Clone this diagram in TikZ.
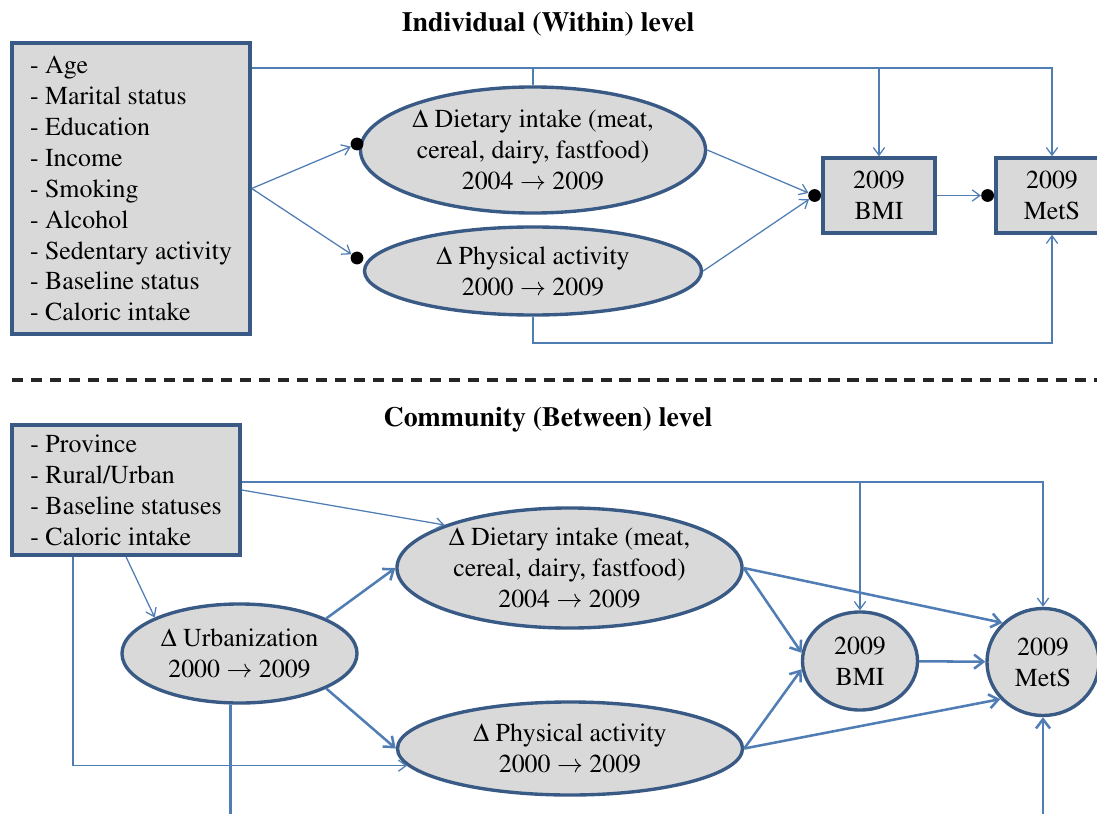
\documentclass[tikz,border=0pt]{standalone}
\usepackage[T1]{fontenc}
\usepackage{mathptmx}
\usetikzlibrary{shapes.geometric,arrows.meta,positioning}
\definecolor{boxline}{RGB}{58,90,134}
\definecolor{arrowline}{RGB}{80,126,180}
\definecolor{boxfill}{RGB}{217,217,217}

\begin{document}
\begin{tikzpicture}[x=0.025cm, y=-0.025cm,
        every node/.style={font=\fontsize{18.4}{22}\selectfont},
        leveltitle/.style={font=\fontsize{19.8}{22}\selectfont\bfseries},
        listbox/.style={draw=boxline, line width=2.4pt, fill=boxfill, align=left, inner sep=0pt},
        oval/.style={ellipse, draw=boxline, line width=2.4pt, fill=boxfill, align=center, inner sep=1pt},
        outbox/.style={rectangle, draw=boxline, line width=2.4pt, fill=boxfill, align=center,
            minimum width=2.8cm, minimum height=1.875cm},
        blob/.style={circle, fill=black, inner sep=0pt, minimum size=0.32cm},
        tie/.style={draw=arrowline, line width=0.9pt},
        link/.style={tie, -{Straight Barb[length=5.5pt,width=8pt]}},
        biglink/.style={draw=arrowline, line width=1.8pt, -{Straight Barb[length=6.5pt,width=10pt]}}]
    \clip (0,0) rectangle (1097,814);
    % Individual level
    \node[leveltitle] (title1) at (548,24) {Individual (Within) level};
    \node[listbox, minimum width=5.95cm, minimum height=7.275cm] (box1) at (131,188.5)
        {- Age\\- Marital status\\- Education\\- Income\\- Smoking\\- Alcohol\\- Sedentary activity\\- Baseline status\\- Caloric intake};
    \node[oval, minimum width=8.425cm, minimum height=3.15cm] (diet1) at (533,150)
        {$\Delta$ Dietary intake (meat,\\cereal, dairy, fastfood)\\2004 $\rightarrow$ 2009};
    \node[oval, minimum width=8.425cm, minimum height=2.2cm] (phys1) at (533,271)
        {$\Delta$ Physical activity\\2000 $\rightarrow$ 2009};
    \node[outbox] (bmi1) at (879,195.5) {2009\\BMI};
    \node[outbox] (mets1) at (1052,195.5) {2009\\MetS};
    \node[blob] (ddiet1) at (357,144) {};
    \node[blob] (dphys1) at (357,258) {};
    \node[blob, left=0pt of bmi1] (dbmi1) {};
    \node[blob, left=0pt of mets1] (dmets1) {};
    \coordinate (top1) at (0,68);
    \coordinate (bot1) at (0,343);
    % Connections
    \draw[link] (box1.east) -- (ddiet1);
    \draw[link] (box1.east) -- (dphys1);
    \draw[link] (diet1.east) -- (dbmi1);
    \draw[link] (phys1.east) -- (dbmi1);
    \draw[link] (bmi1) -- (dmets1);
    \draw[link] (box1.east |- top1) -| (mets1);
    \draw[link] (bmi1 |- top1) -- (bmi1);
    \draw[tie] (diet1) -- (diet1 |- top1);
    \draw[link] (phys1) |- (bot1 -| mets1) -- (mets1);
    % Separator
    \draw[black!85, line width=2.6pt, dash pattern=on 8pt off 5.5pt] (12,380) -- (1097,380);
    % Community level
    \node[leveltitle] (title2) at (548,420) {Community (Between) level};
    \node[listbox, minimum width=5.7cm, minimum height=3.25cm] (box2) at (126,490)
        {- Province\\- Rural/Urban\\- Baseline statuses\\- Caloric intake};
    \node[oval, minimum width=5.875cm, minimum height=2.475cm] (urb) at (239.5,653.5)
        {$\Delta$ Urbanization\\2000 $\rightarrow$ 2009};
    \node[oval, minimum width=8.625cm, minimum height=3cm] (diet2) at (569.5,568)
        {$\Delta$ Dietary intake (meat,\\cereal, dairy, fastfood)\\2004 $\rightarrow$ 2009};
    \node[oval, minimum width=8.625cm, minimum height=2.325cm] (phys2) at (570,748.5)
        {$\Delta$ Physical activity\\2000 $\rightarrow$ 2009};
    \node[oval, minimum width=2.875cm, minimum height=2.45cm] (bmi2) at (860,661) {2009\\BMI};
    \node[oval, minimum width=2.8cm, minimum height=2.675cm] (mets2) at (1043,662) {2009\\MetS};
    \coordinate (top2) at (0,482);
    \coordinate (lft2) at (73,0);
    \coordinate (bot2) at (0,840);
    % Connections
    \draw[link] (box2.east |- top2) -| (mets2);
    \draw[link] (bmi2 |- top2) -- (bmi2);
    \draw[link] (box2.east) -- (diet2.161);
    \draw[link] (box2.south) -- (urb.157);
    \draw[link] (box2.south -| lft2) |- (phys2.186);
    \draw[biglink] (urb.22) -- (diet2.west);
    \draw[biglink] (urb.-22) -- (phys2.west);
    \draw[biglink] (urb.260) |- (bot2 -| mets2) -- (mets2);
    \draw[biglink] (diet2.east) -- (bmi2.172);
    \draw[biglink] (phys2.east) -- (bmi2.188);
    \draw[biglink] (diet2.east) -- (mets2.136);
    \draw[biglink] (phys2.east) -- (mets2.221);
    \draw[biglink] (bmi2) -- (mets2);
\end{tikzpicture}
\end{document}
